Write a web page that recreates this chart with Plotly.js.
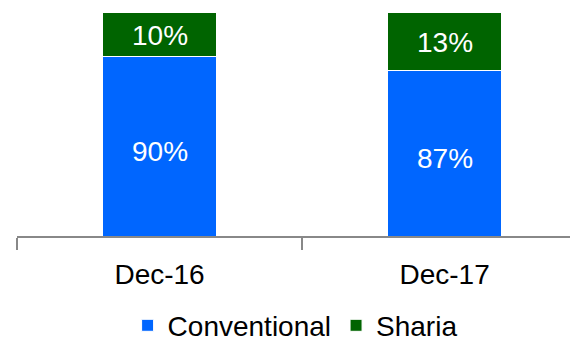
<!DOCTYPE html>
<html>
<head>
<meta charset="utf-8">
<script src="https://cdn.plot.ly/plotly-3.0.1.min.js"></script>
<style>html,body{margin:0;padding:0;background:#fff;}#chart{width:570px;height:344px;}</style>
</head>
<body>
<div id="chart"></div>
<script>
const categories = ["Dec-16", "Dec-17"];
const conventional = [90, 87];
const sharia = [10, 13];
const seriesNames = ["Conventional", "Sharia"];
const yMin = 50, yMax = 100;

const FONT = "Liberation Sans, Arial, sans-serif";
const traces = [
  {type: "bar", name: seriesNames[0], x: categories, y: conventional, width: 0.4,
   marker: {color: "#0066FF", line: {color: "#ffffff", width: 1}}, hoverinfo: "none"},
  {type: "bar", name: seriesNames[1], x: categories, y: sharia, width: 0.4,
   marker: {color: "#006400", line: {color: "#ffffff", width: 1}}, hoverinfo: "none"}
];

const annotations = [];
categories.forEach((c, i) => {
  annotations.push({x: c, y: (yMin + conventional[i]) / 2, text: conventional[i] + "%", showarrow: false,
    font: {family: FONT, size: 28, color: "#ffffff"}, yshift: -5});
  annotations.push({x: c, y: conventional[i] + sharia[i] / 2, text: sharia[i] + "%", showarrow: false,
    font: {family: FONT, size: 28, color: "#ffffff"}, yshift: -1});
});

const layout = {
  width: 570, height: 344,
  margin: {l: 17, r: 0, t: 12, b: 108, autoexpand: false},
  barmode: "stack",
  paper_bgcolor: "#ffffff", plot_bgcolor: "#ffffff",
  showlegend: true,
  legend: {orientation: "h", x: 0.2, xanchor: "left", y: -0.4, yanchor: "middle",
    font: {family: FONT, size: 28, color: "#000000"}, itemclick: false, traceorder: "normal"},
  xaxis: {type: "category", range: [-0.5, 1.44], tickson: "boundaries", ticks: "outside", ticklen: 12,
    tickcolor: "#888888", tickwidth: 2, showline: true, linecolor: "#888888", linewidth: 2,
    ticklabelstandoff: 12,
    showgrid: false, zeroline: false, tickfont: {family: FONT, size: 28, color: "#000000"}},
  yaxis: {range: [yMin, yMax], visible: false, showgrid: false, zeroline: false},
  annotations: annotations
};

Plotly.newPlot("chart", traces, layout, {staticPlot: true, displayModeBar: false});
</script>
</body>
</html>
